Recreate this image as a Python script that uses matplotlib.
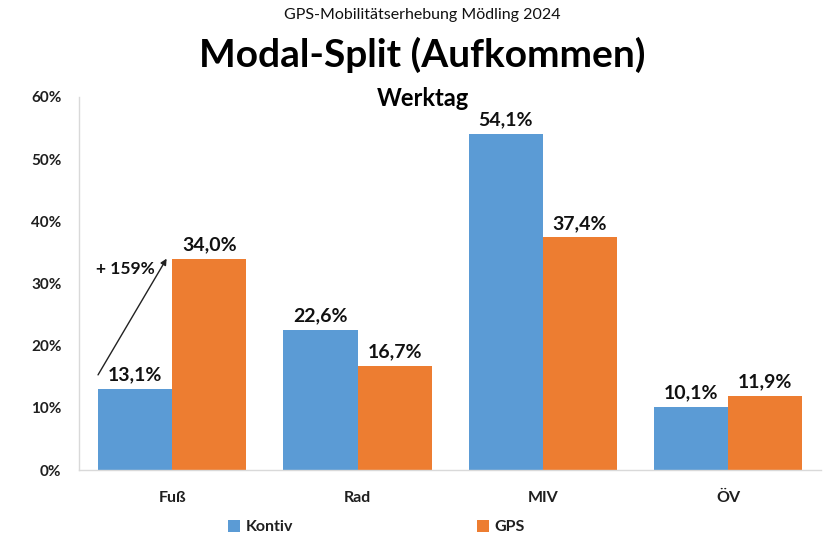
import matplotlib
matplotlib.use("Agg")
import matplotlib.pyplot as plt
import numpy as np

categories = ["Fuß", "Rad", "MIV", "ÖV"]
kontiv = [13.1, 22.6, 54.1, 10.1]
gps = [34.0, 16.7, 37.4, 11.9]
series_names = ["Kontiv", "GPS"]
yticks = [0, 10, 20, 30, 40, 50, 60]
increase_label = "+ 159%"

blue = "#5B9BD5"
orange = "#ED7D31"

plt.rcParams['font.family'] = ['Lato', 'DejaVu Sans']

fig = plt.figure(figsize=(8.28, 5.40), dpi=100)
ax = fig.add_axes([0.096, 0.1296, 0.8955, 0.6908])

x = np.arange(len(categories))
w = 0.4
b1 = ax.bar(x - w/2, kontiv, w, color=blue, label=series_names[0])
b2 = ax.bar(x + w/2, gps, w, color=orange, label=series_names[1])

def fmt(v):
    return f"{v:.1f}%".replace(".", ",")

for bars, vals in ((b1, kontiv), (b2, gps)):
    for r, v in zip(bars, vals):
        ax.annotate(fmt(v), (r.get_x() + r.get_width()/2, v), xytext=(0, 4),
                    textcoords="offset points", ha="center", va="bottom",
                    fontsize=14, fontweight="bold", color="#111111")

# arrow for Fuß increase
x0 = x[0] - w
x1 = x[0] - 0.03
ax.annotate("", xy=(x1, gps[0]), xytext=(x0, kontiv[0] + 2.2),
            arrowprops=dict(arrowstyle="-|>", color="#222222", lw=1.0,
                            mutation_scale=9, shrinkA=0, shrinkB=0))
ax.text(x[0] - 0.255, gps[0] - 1.7, increase_label, ha="center", va="center",
        fontsize=12.5, fontweight="bold", color="#111111")

ax.set_xlim(-0.5, len(categories) - 0.5)
ax.set_ylim(0, 60)
ax.set_yticks(yticks)
ax.set_yticklabels([f"{t}%" for t in yticks], fontsize=11, fontweight="bold", color="#1f1f1f")
ax.set_xticks(x)
ax.set_xticklabels(categories, fontsize=11.5, fontweight="bold", color="#1f1f1f")
ax.tick_params(axis="both", length=0)
ax.tick_params(axis="y", pad=13)
ax.tick_params(axis="x", pad=15)
for s in ("top", "right"):
    ax.spines[s].set_visible(False)
for s in ("left", "bottom"):
    ax.spines[s].set_color("#D9D9D9")
    ax.spines[s].set_linewidth(1.0)

cx = 0.5105
fig.text(cx, 0.972, "GPS-Mobilitätserhebung Mödling 2024", ha="center", va="center",
         fontsize=11.5, color="#111111")
fig.text(cx, 0.899, "Modal-Split (Aufkommen)", ha="center", va="center",
         fontsize=28, fontweight="bold", color="black")
fig.text(cx, 0.818, "Werktag", ha="center", va="center",
         fontsize=17, fontweight="bold", color="black")

leg = fig.legend(handles=[b1, b2], labels=series_names, loc="center",
                 bbox_to_anchor=(0.455, 0.024), ncol=2, frameon=False,
                 prop=dict(size=11.5, weight="bold"), handlelength=0.75,
                 handleheight=0.75, handletextpad=0.35, columnspacing=11.5)
for t in leg.get_texts():
    t.set_color("#1f1f1f")

fig.savefig("out.png", dpi=100)
